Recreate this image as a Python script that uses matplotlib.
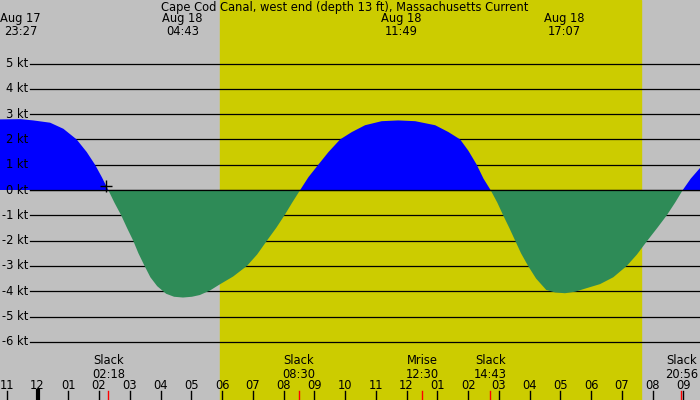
import matplotlib
matplotlib.use("Agg")
import matplotlib.pyplot as plt
import matplotlib.transforms as mtransforms

# hours relative to midnight Aug 18, current in knots
hours = [-1.22, -0.55, -0.14, 0.41, 0.84, 1.27, 1.60, 1.87, 2.09, 2.30,
         2.50, 2.72, 2.91, 3.11, 3.28, 3.48, 3.67, 3.89, 4.18, 4.44, 4.73, 5.02,
         5.28, 5.61, 5.90, 6.36, 6.81, 7.14, 7.46, 7.76, 8.03, 8.28, 8.54,
         8.81, 9.13, 9.46, 9.84, 10.22, 10.65, 11.19, 11.73, 12.28, 12.93, 13.36,
         13.74, 14.01, 14.28, 14.50, 14.73,
         14.95, 15.14, 15.34, 15.53, 15.72, 15.95, 16.21, 16.54, 16.83, 17.15, 17.48,
         17.80, 18.29, 18.72, 19.16, 19.49, 19.81, 20.15, 20.46, 20.73, 20.98,
         21.24, 21.54]
knots = [2.79, 2.80, 2.75, 2.66, 2.42, 2.00, 1.50, 1.00, 0.51, 0.0,
         -0.5, -1.0, -1.5, -2.0, -2.5, -3.0, -3.45, -3.8, -4.1, -4.22, -4.25, -4.22,
         -4.15, -3.97, -3.75, -3.42, -3.0, -2.55, -2.0, -1.5, -1.0, -0.5, 0.0,
         0.51, 1.0, 1.5, 2.0, 2.29, 2.56, 2.72, 2.75, 2.72, 2.56, 2.29,
         2.0, 1.55, 1.0, 0.45, 0.0,
         -0.5, -1.0, -1.5, -2.0, -2.5, -3.0, -3.5, -3.95, -4.05, -4.08, -4.02,
         -3.9, -3.72, -3.45, -3.0, -2.55, -2.03, -1.5, -1.0, -0.5, 0.0,
         0.45, 0.87]

kt_levels = [5, 4, 3, 2, 1, 0, -1, -2, -3, -4, -5, -6]
hour_ticks = list(range(-1, 22))
hour_labels = ["11", "12", "01", "02", "03", "04", "05", "06", "07", "08", "09", "10",
               "11", "12", "01", "02", "03", "04", "05", "06", "07", "08", "09"]

sunrise, sunset = 5.93, 19.63

peak_times = [-0.55, 4.72, 11.82, 17.12]
peak_labels = ["Aug 17\n23:27", "Aug 18\n04:43", "Aug 18\n11:49", "Aug 18\n17:07"]

event_times = [2.30, 8.50, 12.50, 14.72, 20.93]
event_names = ["Slack", "Slack", "Mrise", "Slack", "Slack"]
event_clock = ["02:18", "08:30", "12:30", "14:43", "20:56"]

title = "Cape Cod Canal, west end (depth 13 ft), Massachusetts Current"

GRAY = "#c0c0c0"
YELLOW = "#cccc00"
FS = 8.3

fig = plt.figure(figsize=(7, 4), dpi=100)
fig.patch.set_facecolor(GRAY)
ax = fig.add_axes([0, 0, 1, 1])
ax.set_facecolor(GRAY)
ax.set_xlim(-1.22, 21.54)
ax.set_ylim(-210 / 25.3, 190 / 25.3)
ax.axis("off")

ax.axvspan(sunrise, sunset, color=YELLOW, zorder=0)

for lv in kt_levels:
    ax.axhline(lv, xmin=30 / 700, xmax=1, color="black", lw=0.9, zorder=1)
    ax.text(-1.22 + 28 / 30.75, lv, f"{lv} kt", ha="right", va="center",
            fontsize=FS, zorder=3)

ax.fill_between(hours, knots, 0, where=[k >= 0 for k in knots], interpolate=True,
                color="#0000ff", lw=0, zorder=2)
ax.fill_between(hours, knots, 0, where=[k <= 0 for k in knots], interpolate=True,
                color="#2e8b57", lw=0, zorder=2)
ax.axhline(0, xmin=30 / 700, xmax=1, color="black", lw=0.9, zorder=2.5)
ax.plot([event_times[0] - 0.07], [0.15], marker="+", color="black", ms=8, mew=1, zorder=3)

trans = mtransforms.blended_transform_factory(ax.transData, ax.transAxes)

ax.text(10.0, 1 - 7 / 400, title, transform=trans, ha="center", va="center", fontsize=FS)
for t, lab in zip(peak_times, peak_labels):
    ax.text(t, 1 - 25 / 400, lab, transform=trans, ha="center", va="center",
            fontsize=FS, linespacing=0.95)

for t, name, clk in zip(event_times, event_names, event_clock):
    ax.text(t, 1 - 361 / 400, name, transform=trans, ha="center", va="center", fontsize=FS)
    ax.text(t, 1 - 374 / 400, clk, transform=trans, ha="center", va="center", fontsize=FS)
    ax.plot([t, t], [0, 9 / 400], transform=trans, color="red", lw=1, zorder=3)

for t, lab in zip(hour_ticks, hour_labels):
    ax.text(t, 1 - 385.5 / 400, lab, transform=trans, ha="center", va="center", fontsize=FS)
    ax.plot([t, t], [0, 9 / 400], transform=trans, color="black",
            lw=3 if t == 0 else 1, zorder=3)

fig.savefig("out.png", dpi=100, facecolor=GRAY)
